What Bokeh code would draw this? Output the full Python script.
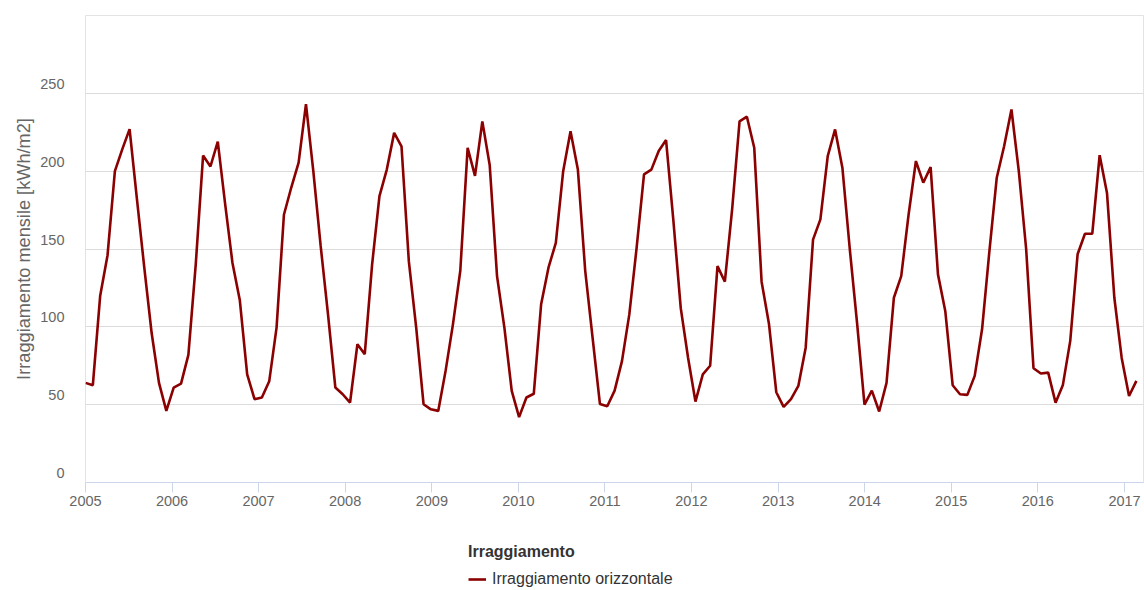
import pandas as pd
from bokeh.plotting import figure
from bokeh.layouts import column
from bokeh.models import (Range1d, FixedTicker, DatetimeTickFormatter, Legend,
                          LegendItem, ColumnDataSource, Grid, CustomJSTickFormatter)
from bokeh.embed import file_html
from bokeh.resources import INLINE

# Monthly horizontal irradiation [kWh/m2], Jan..Dec of each year
v2005 = [64, 62.5, 120, 146, 200, 214, 227, 182, 138, 96, 64, 46]
v2006 = [61, 63.5, 82, 140, 210, 203, 219, 179, 141, 117, 69.5, 53.5]
v2007 = [54.6, 65, 99.5, 172, 189.5, 205.5, 243, 200, 152, 108, 61, 56.7]
v2008 = [51.3, 88.8, 82.4, 140, 184, 201, 224.6, 216, 142, 99.5, 50.3, 47]
v2009 = [46, 71.7, 101.6, 136, 215, 197, 232, 204, 132.6, 99.5, 58.8, 42]
v2010 = [54.6, 57, 114.5, 138, 154, 200, 225.7, 201, 136, 93, 50.5, 49]
v2011 = [59, 78, 108, 151, 198, 201, 213, 220, 168, 112, 80, 52]
v2012 = [69.5, 75, 139, 129, 176, 232, 235, 215, 129, 102, 58, 48.6]
v2013 = [53.5, 62, 86.6, 156, 169, 209.7, 226.8, 202, 150, 102, 50, 59]
v2014 = [45.6, 64, 118.7, 132.6, 172, 206.5, 192.6, 202.6, 133.7, 110, 62.5, 56.7]
v2015 = [56.3, 68.5, 98.4, 148.7, 195.8, 216, 239.6, 200, 150, 73.4, 70, 70.6]
v2016 = [51.3, 62.7, 91, 146.6, 159.8, 159.8, 210.3, 186, 118.7, 80, 55.6, 65.3]

tick_years = list(range(2005, 2018))
y_ticks = [0, 50, 100, 150, 200, 250]
series_name = "Irraggiamento orizzontale"
legend_title = "Irraggiamento"
y_title = "Irraggiamento mensile [kWh/m2]"
LINE_COLOR = "#8b0000"

values = (v2005 + v2006 + v2007 + v2008 + v2009 + v2010 + v2011 + v2012
          + v2013 + v2014 + v2015 + v2016)
# the source chart places consecutive months 31 days apart
dates = pd.date_range("2005-01-01", periods=len(values), freq="31D")

DAY = 86400000.0

def ms(ts):
    return pd.Timestamp(ts).value / 1e6

source = ColumnDataSource(data=dict(x=[ms(d) for d in dates], y=values))

x_start = ms("2005-01-01")
x_end = x_start + 4463 * DAY

p = figure(width=1144, height=520, x_axis_type="datetime",
           x_range=Range1d(x_start, x_end), y_range=Range1d(0, 300),
           output_backend="svg", toolbar_location=None,
           min_border_left=85, min_border_right=1, min_border_top=15,
           min_border_bottom=38)

p.outline_line_color = "#e3e3e3"
p.background_fill_color = "white"
p.border_fill_color = "white"

r = p.line("x", "y", source=source, line_color=LINE_COLOR, line_width=2.6)

# grid lines at the real tick values
p.xgrid.visible = False
p.ygrid.visible = False
p.add_layout(Grid(dimension=1, ticker=FixedTicker(ticks=y_ticks),
                  grid_line_color="#dcdcdc", grid_line_width=1))

# y labels sit slightly above their grid line (as in the source chart)
LABEL_SHIFT = 6
p.yaxis.ticker = FixedTicker(ticks=[t + LABEL_SHIFT for t in y_ticks])
p.yaxis.formatter = CustomJSTickFormatter(code=f"return (tick - {LABEL_SHIFT}).toFixed(0);")
p.yaxis.axis_line_color = None
p.yaxis.major_tick_out = 0
p.yaxis.major_tick_in = 0
p.yaxis.minor_tick_out = 0
p.yaxis.minor_tick_in = 0
p.yaxis.major_label_text_font = "Liberation Sans"
p.yaxis.major_label_text_font_size = "14.5px"
p.yaxis.major_label_text_color = "#666666"
p.yaxis.major_label_standoff = 21
p.yaxis.axis_label = y_title
p.yaxis.axis_label_text_font = "Liberation Sans"
p.yaxis.axis_label_text_font_style = "normal"
p.yaxis.axis_label_text_font_size = "18.2px"
p.yaxis.axis_label_text_color = "#666666"
p.yaxis.axis_label_standoff = 3

p.xaxis.ticker = FixedTicker(ticks=[ms(f"{y}-01-01") for y in tick_years])
p.xaxis.formatter = DatetimeTickFormatter(years="%Y", months="%Y", days="%Y",
                                          hours="%Y", minutes="%Y")
p.xaxis.axis_line_color = "#ccd6eb"
p.xaxis.major_tick_line_color = "#ccd6eb"
p.xaxis.major_tick_out = 10
p.xaxis.major_tick_in = 0
p.xaxis.minor_tick_out = 0
p.xaxis.minor_tick_in = 0
p.xaxis.major_label_text_font = "Liberation Sans"
p.xaxis.major_label_text_font_size = "14.5px"
p.xaxis.major_label_text_color = "#666666"
p.xaxis.major_label_standoff = 3

# legend strip below the chart (its frame is aligned with the chart's frame)
q = figure(width=1144, height=70, x_range=Range1d(0, 1059), y_range=Range1d(0, 70),
           output_backend="svg", toolbar_location=None,
           min_border_left=0, min_border_right=0, min_border_top=0,
           min_border_bottom=0)
q.axis.visible = False
q.grid.visible = False
q.outline_line_color = None
q.border_fill_color = "white"
# legend-only renderer: same series, far outside this strip's visible ranges
rq = q.line("x", "y", source=source, line_color=LINE_COLOR, line_width=2.6)

legend = Legend(items=[LegendItem(label=series_name, renderers=[rq])],
                title=legend_title, location=(383, 1))
legend.background_fill_alpha = 0
legend.border_line_color = None
legend.padding = 0
legend.margin = 0
legend.title_text_font = "Liberation Sans"
legend.title_text_font_style = "bold"
legend.title_text_font_size = "16px"
legend.title_text_color = "#333333"
legend.title_standoff = 8
legend.label_text_font = "Liberation Sans"
legend.label_text_font_size = "16px"
legend.label_text_color = "#333333"
legend.glyph_width = 18
legend.label_standoff = 6
q.add_layout(legend)

layout = column(p, q, spacing=0)
open("out.html", "w").write(file_html(layout, INLINE))
